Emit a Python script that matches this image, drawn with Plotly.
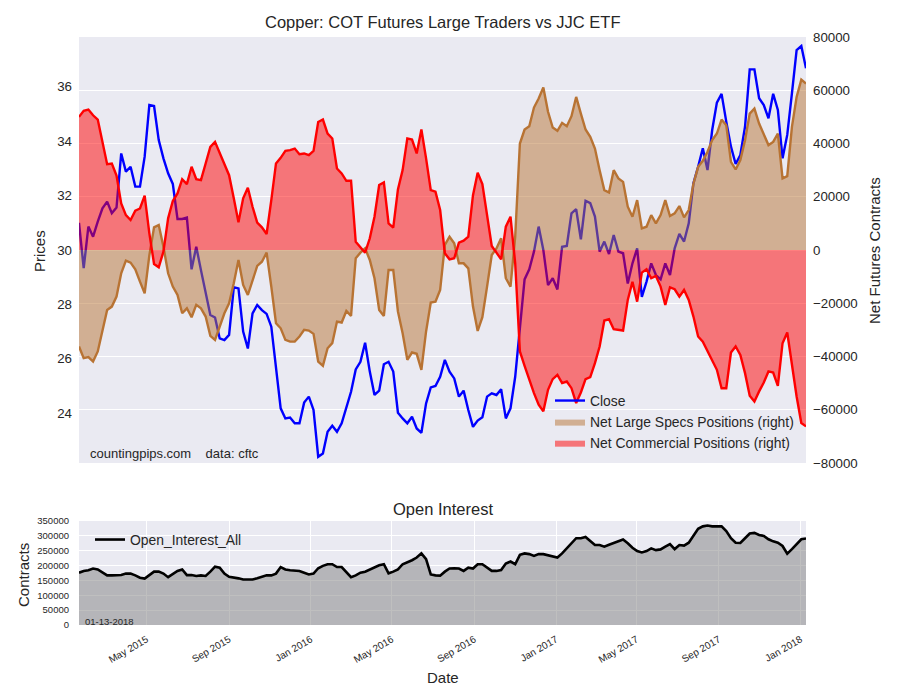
import pandas as pd
import plotly.graph_objects as go

dates = pd.date_range("2015-01-20", periods=156, freq="7D")

close = [31.00, 29.33, 30.86, 30.49, 31.04, 31.53, 31.78, 31.35, 31.56, 33.55,
         32.88, 33.06, 32.33, 32.33, 33.43, 35.33, 35.29, 34.04, 33.37, 32.82,
         32.43, 31.14, 31.14, 31.19, 29.29, 30.12, 29.26, 28.41, 27.61, 27.52,
         26.75, 26.69, 26.88, 28.63, 28.59, 27.00, 26.38, 27.67, 27.98, 27.79,
         27.65, 27.18, 25.59, 24.18, 23.81, 23.84, 23.63, 23.63, 24.39, 24.61,
         24.12, 22.40, 22.52, 23.32, 23.54, 23.32, 23.63, 24.24, 24.79, 25.61,
         25.89, 26.59, 25.53, 24.67, 24.83, 25.80, 25.89, 25.53, 24.02, 23.81,
         23.63, 23.87, 23.44, 23.28, 24.36, 24.95, 25.00, 25.34, 25.96, 25.53,
         25.28, 24.61, 24.83, 24.12, 23.50, 23.73, 23.85, 24.61, 24.73, 24.67,
         24.88, 23.81, 24.18, 25.34, 27.06, 28.92, 29.29, 29.94, 30.86, 30.00,
         28.71, 28.96, 28.55, 30.12, 30.15, 31.35, 31.50, 30.39, 31.81, 31.72,
         31.23, 29.94, 30.31, 29.85, 30.55, 29.94, 29.88, 28.77, 29.51, 30.06,
         28.28, 28.84, 29.51, 29.08, 28.92, 29.51, 29.08, 30.06, 30.59, 30.31,
         30.98, 32.45, 33.06, 33.74, 32.94, 34.41, 35.42, 35.74, 34.72, 33.80,
         33.16, 33.49, 34.53, 36.64, 36.64, 35.58, 35.33, 34.84, 35.74, 35.15,
         33.37, 34.23, 35.76, 37.35, 37.50, 36.68]

large_specs = [-36250, -40600, -40250, -41900, -38100, -30000, -22500, -21250, -17500, -8750,
               -4000, -4750, -7250, -11900, -16250, -2000, 8500, 9400, 1250, -8750,
               -13750, -16900, -23750, -21900, -25250, -20600, -21900, -25000, -32250, -33750,
               -28750, -23750, -20000, -12500, -3750, -13100, -16900, -11500, -6000, -4400,
               -1000, -13750, -27500, -29400, -33750, -34400, -34400, -32500, -30000, -30250,
               -31500, -41900, -43500, -36900, -35000, -26900, -27250, -22900, -24750, -3100,
               -1000, 600, -3750, -10600, -22500, -24750, -7500, -7500, -23100, -31250,
               -41250, -38500, -39000, -45000, -30600, -19750, -19400, -15000, 1900, 5000,
               2500, -5000, -5000, -6900, -21250, -30400, -25250, -13750, -1900, 600,
               4400, -10600, -13750, 5000, 40000, 45250, 46500, 53500, 56900, 61000,
               51900, 46000, 44750, 47750, 46500, 50250, 57500, 51250, 45250, 42500,
               38100, 30000, 22500, 21600, 30000, 26900, 25600, 16250, 12500, 18750,
               8100, 8750, 13100, 10000, 13100, 18750, 12750, 13750, 16500, 12250,
               15000, 25000, 31250, 33500, 36900, 41250, 43750, 49000, 46900, 33100,
               30250, 33750, 41250, 51250, 53100, 47500, 43100, 39400, 40600, 43750,
               26900, 27750, 46250, 57500, 64000, 62500]

commercial = [50000, 52250, 52750, 50600, 49000, 40600, 32250, 32500, 28000, 17500,
              13100, 11250, 14750, 15600, 20400, 6250, -5250, -6500, -600, 11900,
              18400, 21250, 26600, 24750, 31250, 26600, 26250, 32500, 38750, 40600,
              36250, 32500, 28100, 19400, 10400, 19400, 23400, 16250, 10250, 8500,
              6000, 18750, 32500, 34600, 37250, 37500, 38100, 36000, 36250, 35600,
              37250, 48100, 49000, 43750, 41900, 30600, 28750, 26000, 26000, 3100,
              1000, -1000, 4400, 12500, 24400, 25400, 10000, 8400, 22750, 30000,
              41900, 41500, 36250, 45250, 34400, 22500, 21900, 15000, -1250, -3500,
              -3100, 2750, 3500, 5000, 20600, 29000, 24750, 12500, 1500, -1000,
              -3500, 8750, 12500, -5000, -38100, -43500, -48750, -53750, -58100, -60600,
              -52500, -48500, -46900, -50000, -49400, -51900, -57500, -53500, -48500, -47750,
              -42500, -36250, -26500, -26000, -29750, -30000, -30250, -18750, -11900, -19400,
              -8500, -7250, -10600, -9750, -13750, -20600, -14000, -14750, -17500, -15000,
              -18750, -25000, -32500, -34400, -38100, -41900, -45000, -51900, -51900, -38500,
              -36250, -39400, -46250, -54750, -56900, -53100, -49750, -45600, -46000, -51000,
              -35000, -31000, -43750, -55000, -65000, -66250]

open_interest = [176000, 182000, 184000, 190000, 187000, 176000, 167000, 167000, 167000, 168000,
                 173000, 173000, 167000, 159000, 156000, 167000, 179500, 179500, 173000, 161000,
                 173000, 182000, 187000, 168000, 168000, 165000, 167000, 165000, 179500, 196500,
                 193000, 173000, 162500, 161000, 157000, 153000, 152000, 153000, 157000, 161000,
                 167000, 167000, 173000, 195000, 187000, 184000, 182000, 182000, 176000, 170000,
                 173000, 191000, 199000, 204500, 204500, 195000, 195000, 179500, 161000, 167000,
                 176000, 179500, 187000, 193000, 201000, 204500, 174000, 179500, 187000, 204500,
                 210000, 218000, 227000, 241000, 221500, 170000, 167000, 166000, 179500, 190000,
                 191000, 190000, 182000, 193000, 190000, 204500, 204500, 193000, 182000, 182000,
                 185000, 207000, 213500, 204500, 236000, 241000, 238500, 232500, 238500, 238500,
                 234000, 229500, 227000, 241000, 257000, 275000, 292000, 292000, 296500, 283000,
                 269000, 269000, 263500, 270000, 275000, 280500, 287500, 275000, 260000, 249000,
                 244000, 249000, 258000, 252000, 254500, 263500, 272500, 255500, 269000, 267000,
                 277000, 300000, 324000, 332000, 335000, 332000, 332000, 332000, 316000, 292000,
                 277000, 276000, 292000, 308000, 310000, 303000, 300000, 288500, 281500, 277000,
                 266000, 240000, 255500, 272500, 288500, 291000]

FONT = "Liberation Sans, Arial, sans-serif"
TXT = "#262626"
X0, X1 = 79 / 900, 806 / 900
XRANGE = ["2015-01-20", "2018-01-09"]
LW = 2.4

fig = go.Figure()

fig.add_trace(go.Scatter(x=dates, y=close, mode="lines", name="Close",
                         line=dict(color="blue", width=LW), xaxis="x", yaxis="y",
                         legend="legend"))
fig.add_trace(go.Scatter(x=dates, y=large_specs, mode="lines", fill="tozeroy",
                         fillcolor="rgba(184,115,51,0.5)",
                         line=dict(color="#B87333", width=LW), showlegend=False,
                         xaxis="x", yaxis="y2"))
fig.add_trace(go.Scatter(x=dates, y=commercial, mode="lines", fill="tozeroy",
                         fillcolor="rgba(255,0,0,0.5)",
                         line=dict(color="red", width=LW), showlegend=False,
                         xaxis="x", yaxis="y2"))
# legend patches
fig.add_trace(go.Scatter(x=[None], y=[None], mode="lines", fill="toself",
                         fillcolor="rgba(184,115,51,0.5)", line=dict(width=0),
                         name="Net Large Specs Positions (right)", xaxis="x", yaxis="y2",
                         legend="legend"))
fig.add_trace(go.Scatter(x=[None], y=[None], mode="lines", fill="toself",
                         fillcolor="rgba(255,0,0,0.5)", line=dict(width=0),
                         name="Net Commercial Positions (right)", xaxis="x", yaxis="y2",
                         legend="legend"))

fig.add_trace(go.Scatter(x=dates, y=open_interest, mode="lines", fill="tozeroy",
                         fillcolor="rgba(128,128,128,0.5)", name="Open_Interest_All",
                         line=dict(color="black", width=2.6), xaxis="x2", yaxis="y3",
                         showlegend=False))
fig.add_trace(go.Scatter(x=[None], y=[None], mode="lines", name="Open_Interest_All",
                         line=dict(color="black", width=2.6), xaxis="x2", yaxis="y3",
                         legend="legend2"))

axis_common = dict(showline=False, zeroline=False, ticks="", automargin=False,
                   tickfont=dict(family=FONT, size=13.3, color=TXT))

fig.update_layout(
    width=900, height=700, autosize=False,
    margin=dict(l=0, r=0, t=0, b=0, pad=0, autoexpand=False),
    paper_bgcolor="white", plot_bgcolor="#EAEAF2",
    font=dict(family=FONT, color=TXT),
    xaxis=dict(domain=[X0, X1], anchor="y", type="date", range=XRANGE, automargin=False,
               showticklabels=False, showgrid=False, zeroline=False, ticks=""),
    yaxis=dict(domain=[1 - 463 / 700, 1 - 37 / 700], anchor="x", range=[22.17, 37.83],
               dtick=2, tick0=0, showgrid=False, ticklabelstandoff=6, **axis_common),
    yaxis2=dict(overlaying="y", anchor="x", side="right", range=[-80000, 80000],
                dtick=20000, tickformat="d", showgrid=True, gridcolor="white", gridwidth=1.2,
                ticklabelstandoff=6, **axis_common),
    xaxis2=dict(domain=[X0, X1], anchor="y3", type="date", range=XRANGE, automargin=False,
                dtick="M4", tick0="2015-01-01", tickformat="%b %Y", tickangle=-30,
                showgrid=True, gridcolor="white", gridwidth=1.2, ticklabelstandoff=6,
                showline=False, zeroline=False, ticks="",
                tickfont=dict(family=FONT, size=10, color=TXT)),
    yaxis3=dict(domain=[1 - 625 / 700, 1 - 521 / 700], anchor="x2", range=[0, 350000],
                dtick=50000, tickformat="d", showgrid=True, gridcolor="white", gridwidth=1.2,
                showline=False, zeroline=False, ticks="", ticklabelstandoff=9, automargin=False,
                tickfont=dict(family=FONT, size=9.5, color=TXT)),
    legend=dict(x=550 / 900, y=1 - 385 / 700, xanchor="left", yanchor="top",
                bgcolor="rgba(0,0,0,0)", font=dict(family=FONT, size=13.9, color=TXT),
                tracegroupgap=0, itemwidth=30),
    legend2=dict(x=90 / 900, y=1 - 524 / 700, xanchor="left", yanchor="top",
                 bgcolor="rgba(0,0,0,0)", font=dict(family=FONT, size=13.9, color=TXT)),
    showlegend=True,
)

def ann(text, x, y, size, angle=0, xanchor="center", yanchor="middle"):
    fig.add_annotation(text=text, x=x / 900, y=1 - y / 700, xref="paper", yref="paper",
                       showarrow=False, textangle=angle, xanchor=xanchor, yanchor=yanchor,
                       font=dict(family=FONT, size=size, color=TXT))

ann("Copper: COT Futures Large Traders vs JJC ETF", 442.5, 22, 16.5)
ann("Open Interest", 442.5, 509, 16.5)
ann("Prices", 40, 251, 15, angle=-90)
ann("Net Futures Contracts", 875, 251, 15, angle=-90)
ann("Contracts", 23, 575, 15, angle=-90)
ann("Date", 442.5, 677, 15)
ann("countingpips.com\u00a0\u00a0\u00a0\u00a0data: cftc", 88, 453, 13, xanchor="left")
ann("01-13-2018", 83, 621, 9.5, xanchor="left")

fig.write_html("out.html")
